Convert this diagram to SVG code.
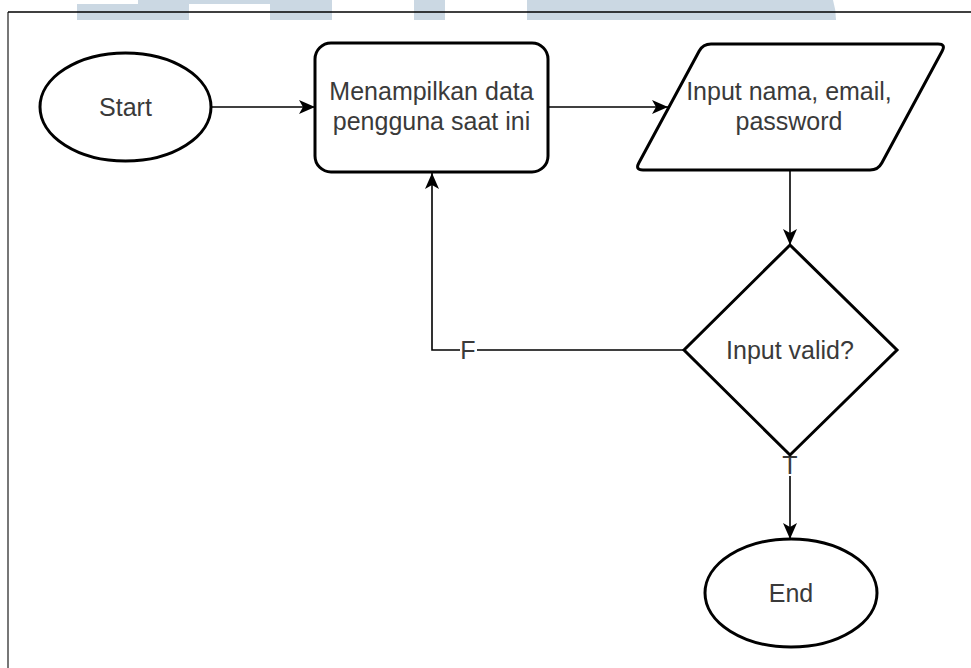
<svg xmlns="http://www.w3.org/2000/svg" width="971" height="668" viewBox="0 0 971 668">
  <style>
    .node { fill: #ffffff; stroke: #000000; stroke-width: 3; }
    .label { font-family: "Liberation Sans", Arial, sans-serif; font-size: 25px; fill: #3a3a3a; text-anchor: middle; }
    .edge { fill: none; stroke: #000000; stroke-width: 1.6; }
    .mark { fill: #cbd8e3; }
  </style>
  <defs>
    <marker id="arrow" viewBox="0 0 16 14" refX="16" refY="7" markerWidth="16" markerHeight="14" markerUnits="userSpaceOnUse" orient="auto">
      <path d="M0,0 L16,7 L0,14 L4,7 z" fill="#000000"/>
    </marker>
  </defs>

  <rect x="0" y="0" width="971" height="668" fill="#ffffff"/>

  <!-- header band shapes -->
  <g id="header">
    <rect class="mark" x="77" y="4" width="112" height="16"/>
    <rect class="mark" x="138" y="0" width="194" height="4"/>
    <rect class="mark" x="270" y="0" width="62" height="20"/>
    <rect class="mark" x="414" y="0" width="31" height="20"/>
    <path class="mark" d="M527,0 L833,0 Q836,10 836,20 L527,20 z"/>
  </g>

  <!-- page frame -->
  <g id="frame">
    <line x1="8" y1="12" x2="8" y2="668" stroke="#555555" stroke-width="1.6"/>
    <line x1="8" y1="12" x2="971" y2="12" stroke="#000000" stroke-width="1.6"/>
  </g>

  <!-- connectors -->
  <g id="connectors">
    <line class="edge" x1="211" y1="107" x2="315" y2="107" marker-end="url(#arrow)"/>
    <line class="edge" x1="548" y1="107" x2="668" y2="107" marker-end="url(#arrow)"/>
    <line class="edge" x1="790" y1="170" x2="790" y2="245" marker-end="url(#arrow)"/>
    <polyline class="edge" points="684,350 432,350 432,173" marker-end="url(#arrow)"/>
    <line class="edge" x1="790" y1="455" x2="790" y2="539" marker-end="url(#arrow)"/>
    <rect x="460" y="340" width="17" height="22" fill="#ffffff"/>
    <text class="label" x="468" y="359">F</text>
    <rect x="782" y="457" width="17" height="19" fill="#ffffff"/>
    <text class="label" x="790" y="474">T</text>
  </g>

  <g id="start">
    <ellipse class="node" cx="125.5" cy="107" rx="85.5" ry="54"/>
    <text class="label" x="125.5" y="116">Start</text>
  </g>

  <g id="show-data">
    <rect class="node" x="315" y="43" width="233" height="129" rx="16" ry="16"/>
    <text class="label" x="431.5" y="100">Menampilkan data</text>
    <text class="label" x="431.5" y="130">pengguna saat ini</text>
  </g>

  <g id="input-data">
    <path class="node" d="M711,44 L938,44 Q946,44 942.2,51 L881.8,163 Q878,170 870,170 L643,170 Q635,170 638.8,163 L699.2,51 Q703,44 711,44 z"/>
    <text class="label" x="789" y="100">Input nama, email,</text>
    <text class="label" x="789" y="130">password</text>
  </g>

  <g id="validate">
    <path class="node" d="M790,245 L897,350 L790,455 L684,350 z"/>
    <text class="label" x="790" y="359">Input valid?</text>
  </g>

  <g id="end">
    <ellipse class="node" cx="791" cy="593" rx="86" ry="54"/>
    <text class="label" x="791" y="602">End</text>
  </g>
</svg>
